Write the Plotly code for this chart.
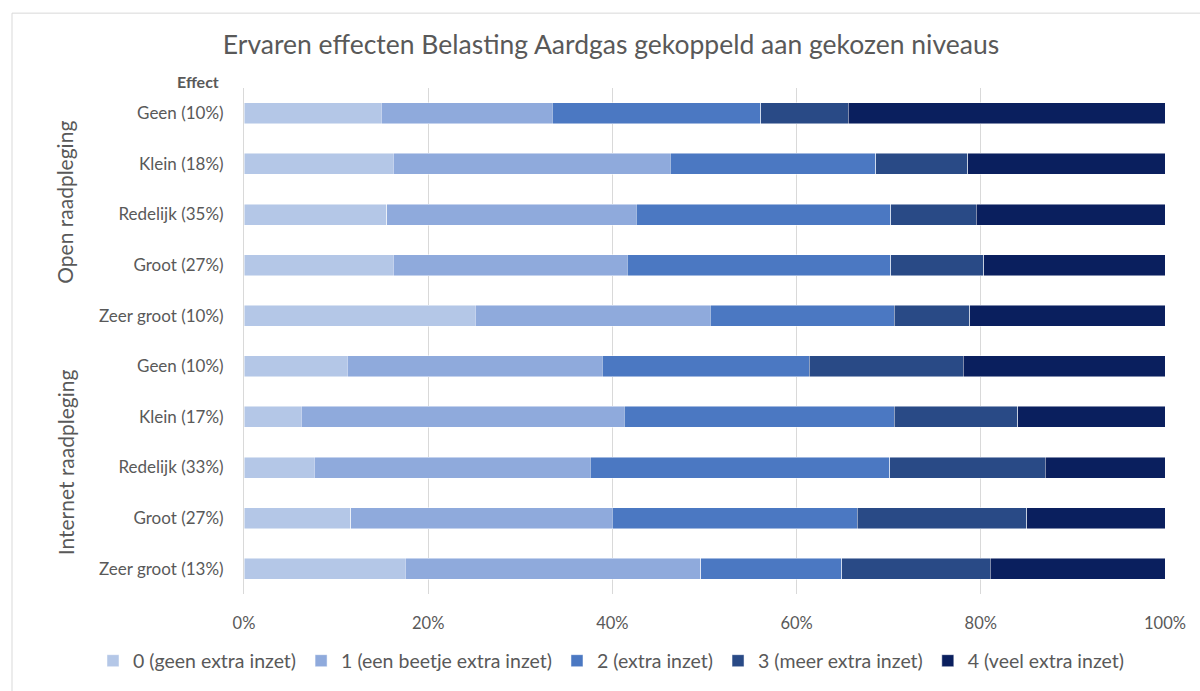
import plotly.graph_objects as go

# Effect level per respondent group (rows top to bottom)
categories = [
    "Geen (10%)", "Klein (18%)", "Redelijk (35%)", "Groot (27%)", "Zeer groot (10%)",
    "Geen (10%)", "Klein (17%)", "Redelijk (33%)", "Groot (27%)", "Zeer groot (13%)",
]
groups = ["Open raadpleging", "Internet raadpleging"]

series_names = [
    "0 (geen extra inzet)",
    "1 (een beetje extra inzet)",
    "2 (extra inzet)",
    "3 (meer extra inzet)",
    "4 (veel extra inzet)",
]

# Share of respondents (%) per chosen level
level0 = [14.9, 16.2, 15.5, 16.2, 25.1, 11.2, 6.2, 7.6, 11.6, 17.5]
level1 = [18.55, 30.1, 27.1, 25.4, 25.5, 27.7, 35.1, 30.0, 28.4, 32.1]
level2 = [22.65, 22.3, 27.6, 28.6, 20.0, 22.5, 29.3, 32.5, 26.6, 15.3]
level3 = [9.5, 10.0, 9.3, 10.1, 8.2, 16.7, 13.4, 16.9, 18.4, 16.1]
level4 = [34.4, 21.4, 20.5, 19.7, 21.2, 21.9, 16.0, 13.0, 15.0, 19.0]

x_ticks = [0, 20, 40, 60, 80, 100]

colors = ["#B4C7E7", "#8FAADC", "#4B78C2", "#294A86", "#0A1F5E"]
text_color = "#595959"
font_family = "Lato, 'Open Sans', sans-serif"

W, H = 1200, 691
L, R, T, B = 244, 35, 88, 96
pw, ph = W - L - R, H - T - B


def px_x(p):
    return (p - L) / pw


def px_y(p):
    return (H - B - p) / ph


rows = list(range(len(categories)))
fig = go.Figure()
for name, vals, col in zip(series_names, [level0, level1, level2, level3, level4], colors):
    fig.add_trace(go.Bar(
        y=rows, x=vals, name=name, orientation="h",
        marker=dict(color=col, line=dict(color="rgba(255,255,255,0.6)", width=0.8)),
        hovertemplate="%{x:.1f}%<extra>" + name + "</extra>",
    ))

fig.update_layout(
    width=W, height=H,
    margin=dict(l=L, r=R, t=T, b=B),
    barmode="stack", bargap=0.585,
    paper_bgcolor="white", plot_bgcolor="white",
    font=dict(family=font_family, color=text_color, size=16),
    title=dict(
        text="Ervaren effecten Belasting Aardgas gekoppeld aan gekozen niveaus",
        x=611 / W, xanchor="center", xref="container",
        y=1 - 45 / H, yanchor="middle", yref="container",
        font=dict(size=26.5, color=text_color, family=font_family),
    ),
    xaxis=dict(
        range=[0, 100], tickvals=x_ticks, ticktext=[f"{v}%" for v in x_ticks],
        showgrid=True, gridcolor="#D9D9D9", gridwidth=1,
        zeroline=False, showline=False, ticks="",
        tickfont=dict(size=16.5, color=text_color), ticklabelstandoff=17,
        fixedrange=True,
    ),
    yaxis=dict(
        range=[len(categories) - 0.5, -0.5],
        tickvals=rows, ticktext=categories,
        showgrid=False, zeroline=False,
        showline=True, linecolor="#D9D9D9", linewidth=1,
        ticks="", tickfont=dict(size=17, color=text_color), ticklabelstandoff=16,
        fixedrange=True,
    ),
    # Legend sits below and left of the plot area so it may span the full width
    legend=dict(
        orientation="h", xref="paper", yref="paper",
        x=px_x(93), xanchor="left", y=px_y(661), yanchor="middle",
        font=dict(size=19.5, color=text_color), traceorder="normal",
        itemwidth=30,
    ),
    showlegend=True,
)

# Column header for the category labels
fig.add_annotation(
    x=px_x(221), y=px_y(81), xref="paper", yref="paper",
    text="<b>Effect</b>", showarrow=False, xanchor="right", yanchor="middle",
    font=dict(size=16, color=text_color),
)

# Rotated group labels
for label, yc in zip(groups, [203, 463]):
    fig.add_annotation(
        x=px_x(65), y=px_y(yc), xref="paper", yref="paper",
        text=label, showarrow=False, textangle=-90,
        xanchor="center", yanchor="middle",
        font=dict(size=21, color=text_color),
    )

# Chart frame
fig.add_shape(type="line", xref="paper", yref="paper",
              x0=px_x(12), x1=px_x(12), y0=px_y(13), y1=px_y(700),
              line=dict(color="#D9D9D9", width=1))
fig.add_shape(type="line", xref="paper", yref="paper",
              x0=px_x(12), x1=px_x(1210), y0=px_y(13), y1=px_y(13),
              line=dict(color="#D9D9D9", width=1))

fig.write_html("out.html")
